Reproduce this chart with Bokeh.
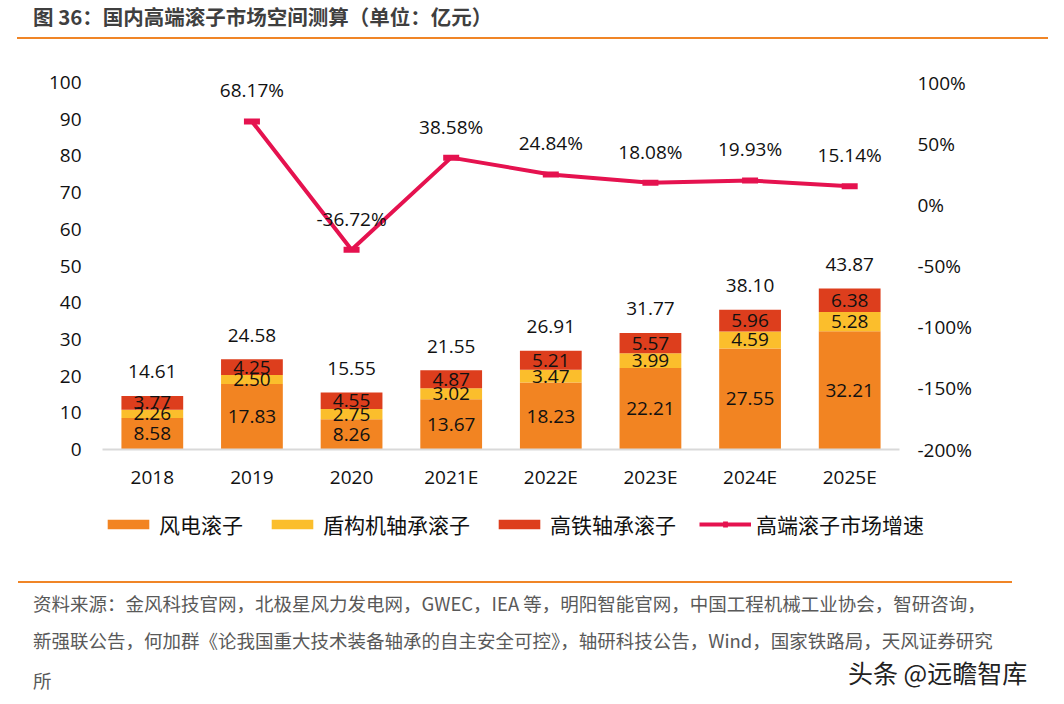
from bokeh.plotting import figure
from bokeh.layouts import column
from bokeh.models import (ColumnDataSource, FactorRange, Range1d, LinearAxis, CategoricalAxis,
                          LabelSet, Legend, LegendItem, PrintfTickFormatter, FixedTicker, Div)
from bokeh.embed import file_html
from bokeh.resources import INLINE
from bokeh.core.properties import value

# ---------------- data ----------------
categories = ["2018", "2019", "2020", "2021E", "2022E", "2023E", "2024E", "2025E"]
wind = [8.58, 17.83, 8.26, 13.67, 18.23, 22.21, 27.55, 32.21]      # 风电滚子
shield = [2.26, 2.50, 2.75, 3.02, 3.47, 3.99, 4.59, 5.28]          # 盾构机轴承滚子
rail = [3.77, 4.25, 4.55, 4.87, 5.21, 5.57, 5.96, 6.38]            # 高铁轴承滚子
total = [14.61, 24.58, 15.55, 21.55, 26.91, 31.77, 38.10, 43.87]
growth_cats = ["2019", "2020", "2021E", "2022E", "2023E", "2024E", "2025E"]
growth = [68.17, -36.72, 38.58, 24.84, 18.08, 19.93, 15.14]       # 高端滚子市场增速 (%)
left_ticks = [0, 10, 20, 30, 40, 50, 60, 70, 80, 90, 100]
right_ticks = [-200, -150, -100, -50, 0, 50, 100]

series_names = ["风电滚子", "盾构机轴承滚子", "高铁轴承滚子", "高端滚子市场增速"]
title_text = "图 36：国内高端滚子市场空间测算（单位：亿元）"
source_lines = [
    "资料来源：金风科技官网，北极星风力发电网，GWEC，IEA 等，明阳智能官网，中国工程机械工业协会，智研咨询，",
    "新强联公告，何加群《论我国重大技术装备轴承的自主安全可控》，轴研科技公告，Wind，国家铁路局，天风证券研究",
    "所",
]
watermark = "头条 @远瞻智库"

# ---------------- styles / layout constants ----------------
C_WIND, C_SHIELD, C_RAIL, C_LINE = "#F28422", "#FBBE2C", "#DD3E1D", "#E5124F"
C_RULE = "#F08526"
NUM_FONT = "Open Sans"
CJK_FONT = "Noto Sans CJK SC"
W = 1048
HEAD_H, MAIN_H, FOOT_H = 48, 512, 128
PLOT_LEFT, PLOT_W = 102, 797          # pixel extent of the category band
PLOT_TOP, PLOT_H = 34, 367            # pixel extent of the value axis (inside main figure)
MAIN_W = 2 * PLOT_LEFT + PLOT_W
N = len(categories)
px_per_cat = PLOT_W / N
pad_units = PLOT_LEFT / px_per_cat
below = MAIN_H - PLOT_TOP - PLOT_H     # pixels under the zero line
L_MIN, L_MAX = 0, 100
R_MIN, R_MAX = -200, 100
l_per_px = (L_MAX - L_MIN) / PLOT_H
r_per_px = (R_MAX - R_MIN) / PLOT_H

# ---------------- header (HTML) ----------------
head_html = (
    f'<div style="position:relative;width:{W}px;height:{HEAD_H}px;margin:0;padding:0;">'
    f'<div style="position:absolute;left:33px;top:4px;line-height:24px;font-family:\'{CJK_FONT}\';'
    f'font-size:20.5px;font-weight:bold;color:#3F3F3F;white-space:nowrap;">{title_text}</div>'
    f'<div style="position:absolute;left:17px;top:37px;width:{W - 17}px;height:2px;background:{C_RULE};"></div>'
    '</div>'
)
head = Div(text=head_html, width=W, height=HEAD_H, margin=0)

# ---------------- main chart ----------------
src = ColumnDataSource(dict(
    cat=categories, wind=wind, shield=shield, rail=rail, total=total,
    wind_mid=[w / 2 for w in wind],
    shield_mid=[w + s / 2 for w, s in zip(wind, shield)],
    rail_mid=[w + s + r / 2 for w, s, r in zip(wind, shield, rail)],
    wind_txt=[f"{v:.2f}" for v in wind],
    shield_txt=[f"{v:.2f}" for v in shield],
    rail_txt=[f"{v:.2f}" for v in rail],
    total_txt=[f"{v:.2f}" for v in total],
))
gsrc = ColumnDataSource(dict(cat=growth_cats, g=growth, txt=[f"{v:.2f}%" for v in growth]))

p = figure(x_range=FactorRange(factors=categories, range_padding=pad_units,
                               range_padding_units="absolute"),
           y_range=Range1d(L_MIN - below * l_per_px, L_MAX + PLOT_TOP * l_per_px),
           width=MAIN_W, height=MAIN_H, output_backend="svg", toolbar_location=None,
           min_border=0, x_axis_type=None, y_axis_type=None, margin=0)
p.extra_y_ranges = {"pct": Range1d(R_MIN - below * r_per_px, R_MAX + PLOT_TOP * r_per_px)}
p.outline_line_color = None

bars = p.vbar_stack(["wind", "shield", "rail"], x="cat", width=0.62,
                    color=[C_WIND, C_SHIELD, C_RAIL], line_color=None, source=src)

ln = p.line(x="cat", y="g", source=gsrc, y_range_name="pct", line_color=C_LINE, line_width=4)
mk = p.scatter(x="cat", y="g", source=gsrc, y_range_name="pct", marker="dash", size=16,
               line_color=C_LINE, line_width=6)


def style_axis(ax, standoff):
    ax.axis_line_color = None
    ax.major_tick_line_color = None
    ax.minor_tick_line_color = None
    ax.major_tick_out = 0
    ax.major_tick_in = 0
    ax.minor_tick_out = 0
    ax.minor_tick_in = 0
    ax.major_label_text_font = NUM_FONT
    ax.major_label_text_font_size = "19px"
    ax.major_label_text_color = "#111111"
    ax.major_label_standoff = standoff


lax = LinearAxis(ticker=FixedTicker(ticks=left_ticks), fixed_location=0)
style_axis(lax, 21)
p.add_layout(lax, "left")

rax = LinearAxis(y_range_name="pct", ticker=FixedTicker(ticks=right_ticks),
                 formatter=PrintfTickFormatter(format="%d%%"), fixed_location=N)
style_axis(rax, 18)
p.add_layout(rax, "right")

xa = CategoricalAxis(fixed_location=0, bounds=(0, N))
style_axis(xa, 14)
xa.axis_line_color = "#D9D9D9"
xa.axis_line_width = 2
p.add_layout(xa, "below")


def bar_labels(ycol, tcol, y_offset=0):
    return LabelSet(x="cat", y=ycol, text=tcol, source=src, text_align="center",
                    text_baseline="middle", y_offset=y_offset,
                    text_font=value(NUM_FONT), text_font_size=value("19px"),
                    text_color="#111111")


p.add_layout(bar_labels("wind_mid", "wind_txt"))
p.add_layout(bar_labels("shield_mid", "shield_txt"))
p.add_layout(bar_labels("rail_mid", "rail_txt"))
p.add_layout(bar_labels("total", "total_txt", 24))
p.add_layout(LabelSet(x="cat", y="g", text="txt", source=gsrc, y_range_name="pct",
                      text_align="center", text_baseline="middle", y_offset=31,
                      text_font=value(NUM_FONT), text_font_size=value("19px"),
                      text_color="#111111"))

legend = Legend(items=[
    LegendItem(label=series_names[0], renderers=[bars[0]]),
    LegendItem(label=series_names[1], renderers=[bars[1]]),
    LegendItem(label=series_names[2], renderers=[bars[2]]),
    LegendItem(label=series_names[3], renderers=[ln, mk]),
], orientation="horizontal", location=(PLOT_LEFT, 21), padding=0, margin=0, spacing=23,
    glyph_width=52, glyph_height=12, label_standoff=5,
    label_text_font=CJK_FONT, label_text_font_size="21px", label_text_color="#111111",
    border_line_color=None, background_fill_alpha=0)
p.add_layout(legend, "center")

# ---------------- footer (HTML) ----------------
line_tops = [33, 70, 110]
src_html = "".join(
    f'<div style="position:absolute;left:33px;top:{t}px;line-height:20px;font-family:\'{CJK_FONT}\';'
    f'font-size:18.5px;color:#595959;white-space:nowrap;">{txt}</div>'
    for txt, t in zip(source_lines, line_tops)
)
foot_html = (
    f'<div style="position:relative;width:{W}px;height:{FOOT_H}px;margin:0;padding:0;">'
    f'<div style="position:absolute;left:18px;top:21px;width:994px;height:2px;background:{C_RULE};"></div>'
    + src_html +
    f'<div style="position:absolute;left:848px;top:99px;line-height:26px;font-family:\'{CJK_FONT}\';'
    f'font-size:25px;color:#222222;white-space:nowrap;">{watermark}</div>'
    '</div>'
)
foot = Div(text=foot_html, width=W, height=FOOT_H, margin=0)

layout = column(head, p, foot, spacing=0)
open("out.html", "w").write(file_html(layout, INLINE))
